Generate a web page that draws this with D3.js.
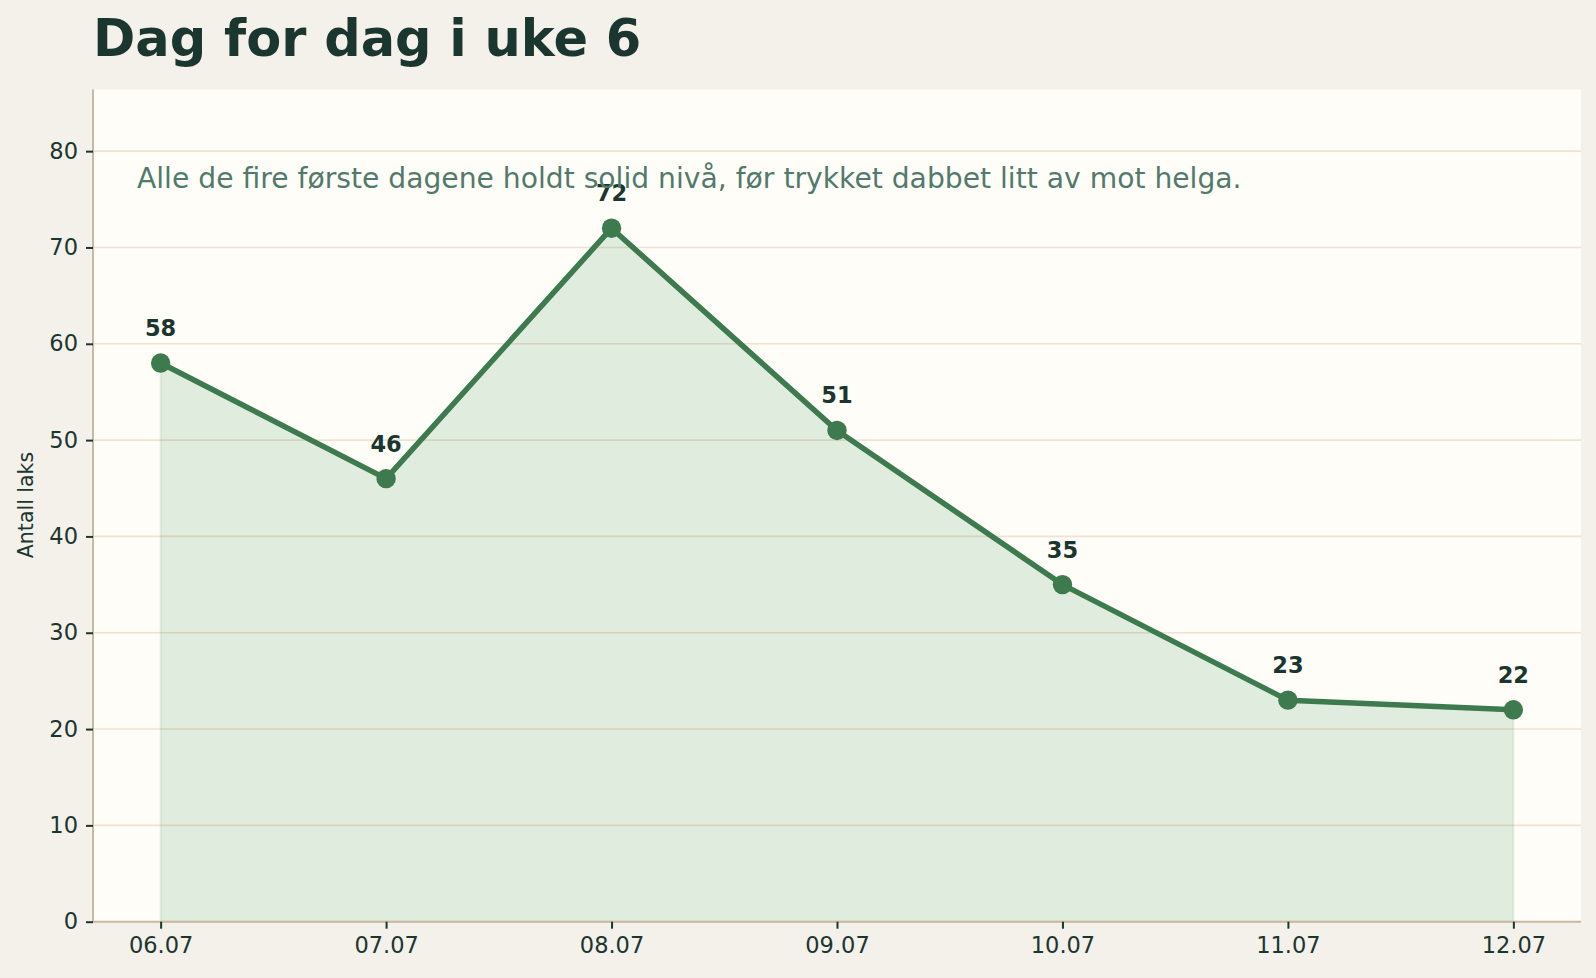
<!DOCTYPE html>
<html>
<head>
<meta charset="utf-8">
<script src="https://cdn.jsdelivr.net/npm/d3@7"></script>
<style>
  body { margin: 0; background: #f4f0ea; }
  text { font-family: "DejaVu Sans", sans-serif; }
</style>
</head>
<body>
<div class="chart"></div>
<script>
// data
var days = ["06.07", "07.07", "08.07", "09.07", "10.07", "11.07", "12.07"];
var fish = [58, 46, 72, 51, 35, 23, 22];
var yTicks = [0, 10, 20, 30, 40, 50, 60, 70, 80];

var svgWidth = 1596;
var svgHeight = 978;

var margin = {
  top: 89.5,
  right: 15,
  bottom: 56.3,
  left: 93
};

var width = svgWidth - margin.left - margin.right;
var height = svgHeight - margin.top - margin.bottom;

var svg = d3
  .select(".chart")
  .append("svg")
  .attr("width", svgWidth)
  .attr("height", svgHeight);

svg.append("rect")
  .attr("width", svgWidth)
  .attr("height", svgHeight)
  .attr("fill", "#f4f0ea");

var chartGroup = svg.append("g")
  .attr("transform", `translate(${margin.left}, ${margin.top})`);

chartGroup.append("rect")
  .attr("width", width)
  .attr("height", height)
  .attr("fill", "#fffdf8");

var xScale = d3.scalePoint()
  .domain(days)
  .range([0, width])
  .padding(0.3);

var yScale = d3.scaleLinear()
  .domain([0, 86.4])
  .range([height, 0]);

// gridlines
chartGroup.append("g")
  .selectAll("line")
  .data(yTicks)
  .enter()
  .append("line")
  .attr("x1", 0)
  .attr("x2", width)
  .attr("y1", d => yScale(d))
  .attr("y2", d => yScale(d))
  .attr("stroke", "#efe2d3")
  .attr("stroke-width", 1.6);

var points = days.map((d, i) => ({ day: d, value: fish[i] }));

// area under the line
var area = d3.area()
  .x(d => xScale(d.day))
  .y0(yScale(0))
  .y1(d => yScale(d.value));

chartGroup.append("path")
  .datum(points)
  .attr("d", area)
  .attr("fill", "#2e8b4a")
  .attr("fill-opacity", 0.15)
  .attr("stroke", "#2e8b4a")
  .attr("stroke-opacity", 0.1)
  .attr("stroke-width", 2);

// line
var line = d3.line()
  .x(d => xScale(d.day))
  .y(d => yScale(d.value));

chartGroup.append("path")
  .datum(points)
  .attr("d", line)
  .attr("fill", "none")
  .attr("stroke", "#3d7a4e")
  .attr("stroke-width", 5.5)
  .attr("stroke-linejoin", "round");

chartGroup.selectAll(".dot")
  .data(points)
  .enter()
  .append("circle")
  .attr("class", "dot")
  .attr("cx", d => xScale(d.day))
  .attr("cy", d => yScale(d.value))
  .attr("r", 9.7)
  .attr("fill", "#3d7a4e");

chartGroup.selectAll(".val")
  .data(points)
  .enter()
  .append("text")
  .attr("class", "val")
  .attr("x", d => xScale(d.day))
  .attr("y", d => yScale(d.value) - 27)
  .attr("text-anchor", "middle")
  .style("font-size", "22.5px")
  .style("font-weight", "bold")
  .style("fill", "#1b362e")
  .text(d => d.value);

// axes
var bottomAxis = d3.axisBottom(xScale).tickSize(7).tickPadding(8);
var leftAxis = d3.axisLeft(yScale).tickValues(yTicks).tickSize(7).tickPadding(8);

var xAxis = chartGroup.append("g")
  .attr("transform", `translate(0, ${height})`)
  .call(bottomAxis);

var yAxis = chartGroup.append("g")
  .call(leftAxis);

[xAxis, yAxis].forEach(function (ax) {
  ax.select(".domain").attr("stroke", "#c7b9a5").attr("stroke-width", 2);
  ax.selectAll(".tick line").attr("stroke", "#1b362e").attr("stroke-width", 2);
  ax.selectAll(".tick text")
    .style("font-size", "22.5px")
    .style("font-family", "DejaVu Sans, sans-serif")
    .style("fill", "#1b362e");
});
// only the outer spine lines, no end ticks
xAxis.select(".domain").attr("d", `M0,0H${width}`);
yAxis.select(".domain").attr("d", `M0,0V${height}`);

// labels
svg.append("text")
  .attr("x", 93)
  .attr("y", 56)
  .style("font-size", "51px")
  .style("font-weight", "bold")
  .style("fill", "#1b362e")
  .text("Dag for dag i uke 6");

svg.append("text")
  .attr("x", 137)
  .attr("y", 188)
  .style("font-size", "28.2px")
  .style("fill", "#527a6c")
  .text("Alle de fire første dagene holdt solid nivå, før trykket dabbet litt av mot helga.");

svg.append("text")
  .attr("transform", "translate(33, 505) rotate(-90)")
  .attr("text-anchor", "middle")
  .style("font-size", "20.5px")
  .style("fill", "#1b362e")
  .text("Antall laks");
</script>
</body>
</html>
